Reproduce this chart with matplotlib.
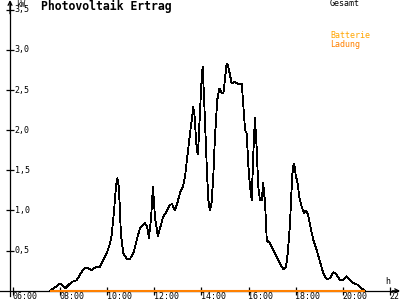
import numpy as np
import matplotlib
matplotlib.use("Agg")
import matplotlib.pyplot as plt

# Uhrzeit (Stunden, dezimal) und Leistung in kW - Gesamt
stunden = [7.57, 8.00, 8.21, 8.49, 8.70, 8.92, 9.06, 9.20, 9.34, 9.48,
           9.69, 9.83, 9.98, 10.12, 10.19, 10.29, 10.37, 10.43, 10.49, 10.54,
           10.58, 10.68, 10.83, 10.97, 11.11, 11.25, 11.39, 11.52, 11.60, 11.69,
           11.77, 11.86, 11.94, 12.03, 12.15, 12.37, 12.54, 12.66, 12.75, 12.88,
           13.00, 13.09, 13.22, 13.30, 13.43, 13.53, 13.60, 13.65, 13.70, 13.80,
           13.85, 13.94, 14.00, 14.05, 14.11, 14.15, 14.23, 14.29, 14.36, 14.43,
           14.50, 14.57, 14.67, 14.76, 14.86, 14.93, 15.07, 15.13, 15.21, 15.28,
           15.42, 15.55, 15.71, 15.78, 15.85, 15.92, 15.99, 16.06, 16.13, 16.20,
           16.27, 16.34, 16.41, 16.48, 16.56, 16.62, 16.70, 16.77, 16.91, 17.12,
           17.33, 17.47, 17.59, 17.66, 17.76, 17.80, 17.86, 17.90, 17.94, 18.00,
           18.08, 18.15, 18.25, 18.35, 18.42, 18.51, 18.61, 18.68, 18.75, 18.89,
           19.03, 19.17, 19.32, 19.46, 19.60, 19.74, 19.88, 20.02, 20.16, 20.30,
           20.44, 20.66, 20.80, 20.94]
gesamt = [0.00, 0.09, 0.03, 0.11, 0.13, 0.24, 0.29, 0.28, 0.26, 0.29,
          0.30, 0.38, 0.47, 0.59, 0.70, 1.00, 1.30, 1.40, 1.30, 1.00,
          0.70, 0.47, 0.40, 0.40, 0.47, 0.63, 0.78, 0.82, 0.84, 0.80,
          0.66, 0.90, 1.30, 0.90, 0.68, 0.92, 1.00, 1.07, 1.08, 1.00,
          1.12, 1.22, 1.30, 1.42, 1.75, 2.00, 2.15, 2.29, 2.20, 1.75,
          1.70, 2.25, 2.60, 2.79, 2.40, 2.10, 1.50, 1.13, 1.00, 1.10,
          1.42, 1.90, 2.38, 2.52, 2.46, 2.46, 2.83, 2.80, 2.69, 2.58,
          2.60, 2.58, 2.58, 2.29, 2.00, 1.96, 1.55, 1.30, 1.13, 1.71,
          2.15, 1.79, 1.30, 1.13, 1.13, 1.34, 1.09, 0.63, 0.59, 0.47,
          0.34, 0.27, 0.30, 0.47, 0.84, 1.13, 1.46, 1.56, 1.58, 1.44,
          1.34, 1.17, 1.05, 0.97, 1.00, 0.96, 0.82, 0.72, 0.63, 0.51,
          0.36, 0.22, 0.14, 0.16, 0.23, 0.20, 0.13, 0.14, 0.18, 0.13,
          0.10, 0.07, 0.03, 0.00]
ladung = [0.0] * len(stunden)

x_ticks = [6, 8, 10, 12, 14, 16, 18, 20, 22]
x_labels = ["06:00", "08:00", "10:00", "12:00", "14:00", "16:00", "18:00", "20:00", "22:00"]
y_ticks = [0.5, 1.0, 1.5, 2.0, 2.5, 3.0, 3.5]
y_labels = ["0,5", "1,0", "1,5", "2,0", "2,5", "3,0", "3,5"]

mono = "DejaVu Sans Mono"
klein = 6

fig = plt.figure(figsize=(4, 3), dpi=100)
ax = fig.add_axes([0, 0, 1, 1])
ax.set_xlim(5.448, 22.426)
ax.set_ylim(-0.1146, 3.621)
x_achse = 5.873

ax.plot(stunden, gesamt, color="black", lw=0.6, antialiased=False, zorder=3)
ax.plot(stunden, ladung, color="#FF8000", lw=1.5, zorder=4, solid_capstyle="butt")

# Achsen
for s in ["top", "right"]:
    ax.spines[s].set_visible(False)
ax.spines["left"].set_position(("data", x_achse))
ax.spines["bottom"].set_position(("data", 0))
ax.spines["left"].set_bounds(-0.06, 3.6)
ax.spines["bottom"].set_bounds(5.448, 22.35)
ax.spines["left"].set_linewidth(0.9)
ax.spines["bottom"].set_linewidth(0.9)
ax.set_xticks(x_ticks)
ax.set_yticks(y_ticks)
ax.tick_params(direction="inout", length=6, width=0.9, labelleft=False, labelbottom=False)
ax.annotate("", xy=(x_achse, 3.62), xytext=(x_achse, 3.45),
            arrowprops=dict(arrowstyle="->", lw=0.9, mutation_scale=7, shrinkA=0, shrinkB=0))
ax.annotate("", xy=(22.426, 0), xytext=(22.1, 0),
            arrowprops=dict(arrowstyle="->", lw=0.9, mutation_scale=7, shrinkA=0, shrinkB=0))

for t, lab in zip(y_ticks, y_labels):
    ax.text(6.08, t, lab, family=mono, fontsize=klein, ha="left", va="center")
for t, lab in zip(x_ticks, x_labels):
    ax.text(t - 0.02, -0.02, lab, family=mono, fontsize=klein, ha="left", va="top")

ax.text(6.12, 3.615, "kW", family=mono, fontsize=5.5, ha="left", va="top")
ax.text(21.79, 0.12, "h", family=mono, fontsize=klein, ha="left", va="center")

ax.text(7.2, 3.535, "Photovoltaik Ertrag", family=mono, fontsize=8.3,
        fontweight="bold", ha="left", va="center")

ax.text(19.455, 3.575, "Gesamt", family=mono, fontsize=klein, ha="left", va="center")
ax.text(19.455, 3.175, "Batterie", family=mono, fontsize=klein, color="#FFA500",
        ha="left", va="center")
ax.text(19.455, 3.073, "Ladung", family=mono, fontsize=klein, color="#FF8000",
        ha="left", va="center")

fig.savefig("out.png", dpi=100)
